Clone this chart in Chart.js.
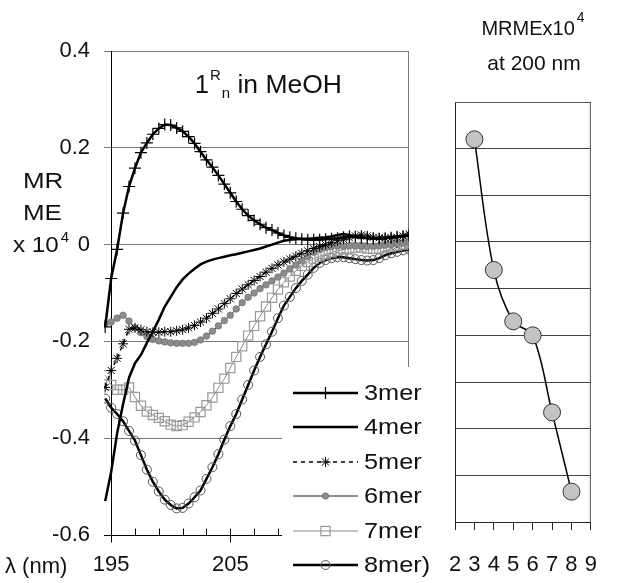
<!DOCTYPE html>
<html>
<head>
<meta charset="utf-8">
<script src="https://cdn.jsdelivr.net/npm/chart.js@4/dist/chart.umd.min.js"></script>
<style>
  body { margin: 0; background: #fff; }
  #wrap { position: relative; width: 619px; height: 583px; overflow: hidden; }
  canvas { position: absolute; top: 0; }
  #cd { left: 0; }
  #nm { left: 420px; }
</style>
</head>
<body>
<div id="wrap">
  <canvas id="cd" width="430" height="583"></canvas>
  <canvas id="nm" width="199" height="583"></canvas>
</div>
<script>
// wavelength (nm) of each spectrum point
const wavelength = [194.5,195,195.5,196,196.5,197,197.5,198,198.5,199,199.5,200,200.5,201,201.5,202,202.5,203,203.5,204,
  204.5,205,205.5,206,206.5,207,207.5,208,208.5,209,209.5,210,210.5,211,211.5,212,212.5,213,213.5,214,
  214.5,215,215.5,216,216.5,217,217.5,218,218.5,219,219.5,220];

// MRME x 10^4 for each oligomer
const mer3 = [-0.17,-0.07,-0.01,0.065,0.12,0.158,0.19,0.21,0.228,0.24,
  0.248,0.247,0.241,0.234,0.223,0.209,0.192,0.175,0.16,0.143,
  0.125,0.107,0.089,0.073,0.06,0.05,0.042,0.035,0.03,0.024,
  0.019,0.015,0.013,0.011,0.01,0.01,0.01,0.011,0.012,0.013,
  0.015,0.017,0.016,0.014,0.013,0.012,0.012,0.013,0.014,0.016,
  0.017,0.018];
const mer4 = [-0.53,-0.47,-0.39,-0.33,-0.275,-0.245,-0.228,-0.203,-0.18,-0.155,
  -0.128,-0.108,-0.088,-0.072,-0.06,-0.05,-0.041,-0.035,-0.031,-0.028,
  -0.025,-0.022,-0.02,-0.017,-0.014,-0.011,-0.008,-0.004,0.0,0.004,
  0.008,0.01,0.011,0.012,0.012,0.013,0.014,0.015,0.017,0.02,
  0.022,0.02,0.017,0.015,0.014,0.013,0.014,0.015,0.016,0.017,
  0.018,0.02];
const mer5 = [-0.295,-0.26,-0.235,-0.205,-0.175,-0.172,-0.176,-0.18,-0.181,-0.181,
  -0.18,-0.18,-0.178,-0.176,-0.172,-0.167,-0.16,-0.152,-0.142,-0.133,
  -0.122,-0.112,-0.101,-0.092,-0.083,-0.074,-0.066,-0.057,-0.049,-0.042,
  -0.036,-0.03,-0.024,-0.018,-0.013,-0.008,-0.004,0.0,0.004,0.008,
  0.011,0.014,0.018,0.02,0.018,0.015,0.014,0.013,0.014,0.015,
  0.018,0.022];
const mer6 = [-0.163,-0.16,-0.152,-0.146,-0.158,-0.172,-0.182,-0.19,-0.196,-0.199,
  -0.201,-0.203,-0.204,-0.204,-0.204,-0.202,-0.197,-0.189,-0.179,-0.168,
  -0.157,-0.146,-0.133,-0.12,-0.109,-0.1,-0.091,-0.083,-0.075,-0.067,
  -0.059,-0.05,-0.042,-0.034,-0.025,-0.016,-0.01,-0.006,-0.004,-0.003,
  -0.003,-0.002,-0.003,-0.004,-0.004,-0.003,-0.002,-0.001,0.0,0.002,
  0.004,0.006];
const mer7 = [-0.27,-0.29,-0.3,-0.3,-0.295,-0.315,-0.333,-0.345,-0.352,-0.358,
  -0.365,-0.372,-0.375,-0.373,-0.366,-0.357,-0.346,-0.332,-0.316,-0.296,
  -0.277,-0.255,-0.232,-0.21,-0.188,-0.168,-0.148,-0.128,-0.11,-0.093,
  -0.078,-0.066,-0.054,-0.044,-0.036,-0.029,-0.024,-0.02,-0.016,-0.013,
  -0.01,-0.008,-0.006,-0.006,-0.008,-0.009,-0.008,-0.006,-0.004,-0.002,
  0.0,0.003];
const mer8 = [-0.318,-0.337,-0.35,-0.365,-0.385,-0.405,-0.435,-0.465,-0.49,-0.51,
  -0.527,-0.538,-0.545,-0.544,-0.535,-0.522,-0.508,-0.484,-0.46,-0.433,
  -0.403,-0.375,-0.35,-0.32,-0.29,-0.26,-0.232,-0.206,-0.18,-0.152,
  -0.126,-0.108,-0.09,-0.075,-0.062,-0.048,-0.038,-0.032,-0.028,-0.026,
  -0.026,-0.028,-0.03,-0.032,-0.033,-0.032,-0.028,-0.022,-0.018,-0.015,
  -0.012,-0.01];

const seriesNames = ['3mer','4mer','5mer','6mer','7mer','8mer)'];
const cdTicksY = [-0.6,-0.4,-0.2,0,0.2,0.4];
const cdTicksX = [195,197,199,201,203,205,207,209,211,213,215,217,219];
const cdLabelsX = [195,205];

// right panel: MRME x 10^4 at 200 nm vs chain length
const merN = [3,4,5,6,7,8];
const mrme200 = [0.22,-0.06,-0.17,-0.2,-0.365,-0.535];
const nmTicksY = [-0.6,-0.5,-0.4,-0.3,-0.2,-0.1,0,0.1,0.2,0.3];
const nmTicksX = [2,3,4,5,6,7,8,9];

Chart.defaults.font.family = "'Liberation Sans', Arial, sans-serif";
Chart.defaults.font.size = 22;
Chart.defaults.color = '#111';

const FONT = "'Liberation Sans', Arial, sans-serif";

// the scanned figure's lettering is a little wider than Arial
function wideText(ctx, text, x, y, sx) {
  ctx.save();
  ctx.translate(x, y);
  ctx.scale(sx, 1);
  ctx.fillText(text, 0, 0);
  ctx.restore();
  return ctx.measureText(text).width * sx;
}

const styles = [
  {borderColor:'#000', borderWidth:2.5, pointStyle:'cross', pointRadius:6, pointBorderWidth:1.2, pointBorderColor:'#000', pointBackgroundColor:'#000'},
  {borderColor:'#000', borderWidth:2.5, pointStyle:'circle', pointRadius:0, pointBorderWidth:0},
  {borderColor:'#000', borderWidth:1.5, borderDash:[4,4], pointStyle:'star', pointRadius:5, pointBorderWidth:1, pointBorderColor:'#000', pointBackgroundColor:'#000'},
  {borderColor:'#222', borderWidth:1, pointStyle:'circle', pointRadius:3.3, pointBorderWidth:0.6, pointBorderColor:'#666', pointBackgroundColor:'#8c8c8c'},
  {borderColor:'#888', borderWidth:1, pointStyle:'rect', pointRadius:6.5, pointBorderWidth:1.2, pointBorderColor:'#9a9a9a', pointBackgroundColor:'rgba(255,255,255,0)'},
  {borderColor:'#000', borderWidth:2.5, pointStyle:'circle', pointRadius:4.5, pointBorderWidth:1, pointBorderColor:'#555', pointBackgroundColor:'rgba(255,255,255,0)'}
];
const allSeries = [mer3, mer4, mer5, mer6, mer7, mer8];

const cdDatasets = allSeries.map((s, k) => Object.assign({
  label: seriesNames[k],
  data: wavelength.map((w, i) => ({x: w, y: s[i]})),
  tension: 0,
  fill: false
}, styles[k]));

const cdDecor = {
  id: 'cdDecor',
  beforeDatasetsDraw(chart) {
    const {ctx, chartArea: a, scales: {x, y}} = chart;
    ctx.save();
    ctx.lineWidth = 1;
    // right border of plot area
    ctx.strokeStyle = '#777';
    ctx.beginPath();
    ctx.moveTo(a.right - 0.5, a.top); ctx.lineTo(a.right - 0.5, a.bottom);
    ctx.stroke();
    // value axis crossing at 195 nm
    ctx.strokeStyle = '#000';
    const x0 = Math.round(x.getPixelForValue(195)) + 0.5;
    ctx.beginPath();
    ctx.moveTo(x0, a.top); ctx.lineTo(x0, a.bottom + 7);
    ctx.stroke();
    // category axis at -0.6
    const yb = Math.round(y.getPixelForValue(-0.6)) + 0.5;
    ctx.beginPath();
    ctx.moveTo(a.left, yb); ctx.lineTo(a.right, yb);
    ctx.stroke();
    cdTicksX.forEach(v => {
      const px = Math.round(x.getPixelForValue(v)) + 0.5;
      ctx.beginPath();
      ctx.moveTo(px, yb - 7);
      ctx.lineTo(px, cdLabelsX.includes(v) ? yb + 7 : yb);
      ctx.stroke();
    });
    ctx.restore();
  },
  afterDraw(chart) {
    const ctx = chart.ctx;
    ctx.save();
    ctx.fillStyle = '#111';
    ctx.textBaseline = 'alphabetic';
    ctx.textAlign = 'left';
    // panel title 1^R_n in MeOH
    ctx.font = '25px ' + FONT;
    ctx.fillText('1', 195, 93);
    let cx = 195 + ctx.measureText('1').width;
    ctx.font = '15px ' + FONT;
    ctx.fillText('R', cx + 1, 80);
    cx += 1 + ctx.measureText('R').width;
    ctx.fillText('n', cx + 1, 98);
    cx += 1 + ctx.measureText('n').width;
    ctx.font = '25px ' + FONT;
    wideText(ctx, ' in MeOH', cx, 93, 1.06);
    // axis title
    ctx.font = '22px ' + FONT;
    wideText(ctx, 'MR', 23, 188, 1.18);
    wideText(ctx, 'ME', 23, 220, 1.18);
    const w10 = wideText(ctx, 'x 10', 13, 252, 1.1);
    ctx.font = '15px ' + FONT;
    ctx.fillText('4', 13 + w10 + 2, 242);
    ctx.font = '22px ' + FONT;
    ctx.fillText('\u03bb (nm)', 5, 573);

    // legend box
    ctx.fillStyle = '#fff';
    ctx.fillRect(282, 367, 150, 216);
    const rowY = [393, 427, 462, 496, 531, 565];
    chart.data.datasets.forEach((ds, k) => {
      const yy = rowY[k];
      ctx.save();
      ctx.strokeStyle = ds.borderColor;
      ctx.lineWidth = ds.borderWidth;
      ctx.setLineDash(ds.borderDash || []);
      ctx.beginPath();
      ctx.moveTo(293, yy); ctx.lineTo(358, yy);
      ctx.stroke();
      ctx.setLineDash([]);
      if (ds.pointRadius > 0) {
        ctx.fillStyle = ds.pointBackgroundColor;
        ctx.strokeStyle = ds.pointBorderColor;
        ctx.lineWidth = ds.pointBorderWidth;
        Chart.helpers.drawPoint(ctx, {pointStyle: ds.pointStyle, radius: ds.pointRadius, borderWidth: ds.pointBorderWidth, rotation: 0}, 325.5, yy);
      }
      ctx.restore();
      ctx.fillStyle = '#111';
      ctx.font = '22px ' + FONT;
      ctx.textBaseline = 'middle';
      wideText(ctx, ds.label, 364, yy + 1, 1.15);
    });
    ctx.restore();
  }
};

new Chart(document.getElementById('cd'), {
  type: 'line',
  data: {datasets: cdDatasets},
  options: {
    responsive: false,
    animation: false,
    layout: {padding: {top: 51, right: 21, left: 0, bottom: 0}},
    plugins: {legend: {display: false}, tooltip: {enabled: false}},
    scales: {
      x: {
        type: 'linear', min: 194.4, max: 220,
        afterBuildTicks: s => { s.ticks = cdTicksX.map(v => ({value: v})); },
        afterFit: s => { s.height = 48; },
        grid: {display: false, drawTicks: false},
        border: {display: false},
        ticks: {padding: 17, autoSkip: false, maxRotation: 0,
          callback: v => cdLabelsX.includes(v) ? String(v) : ''}
      },
      y: {
        min: -0.6, max: 0.4,
        afterBuildTicks: s => { s.ticks = cdTicksY.map(v => ({value: v})); },
        afterFit: s => { s.width = 104; },
        grid: {color: '#777', lineWidth: 1, drawTicks: false},
        border: {display: false},
        ticks: {padding: 14, callback: v => Math.abs(v) < 1e-9 ? '0' : v.toFixed(1)}
      }
    }
  },
  plugins: [cdDecor]
});

const nmDecor = {
  id: 'nmDecor',
  beforeDatasetsDraw(chart) {
    const {ctx, chartArea: a} = chart;
    ctx.save();
    ctx.strokeStyle = '#555';
    ctx.lineWidth = 1;
    ctx.beginPath();
    ctx.moveTo(a.left, a.top + 0.5); ctx.lineTo(a.right - 0.5, a.top + 0.5);
    ctx.lineTo(a.right - 0.5, a.bottom);
    ctx.stroke();
    ctx.restore();
  },
  afterDraw(chart) {
    const ctx = chart.ctx;
    ctx.save();
    ctx.fillStyle = '#111';
    ctx.textBaseline = 'alphabetic';
    ctx.textAlign = 'left';
    ctx.font = '20px ' + FONT;
    const t = 'MRMEx10';
    const w1 = ctx.measureText(t).width;
    ctx.font = '14px ' + FONT;
    const w2 = ctx.measureText('4').width;
    const sx = 113 - (w1 + w2 + 2) / 2;
    ctx.font = '20px ' + FONT;
    ctx.fillText(t, sx, 35);
    ctx.font = '14px ' + FONT;
    ctx.fillText('4', sx + w1 + 2, 22);
    ctx.font = '21px ' + FONT;
    ctx.textAlign = 'center';
    ctx.fillText('at 200 nm', 114, 70);
    ctx.restore();
  }
};

new Chart(document.getElementById('nm'), {
  type: 'line',
  data: {datasets: [{
    label: 'MRME at 200 nm',
    data: merN.map((n, i) => ({x: n, y: mrme200[i]})),
    borderColor: '#000', borderWidth: 1.5, tension: 0.35, fill: false,
    pointRadius: 8.5, pointBackgroundColor: '#c3c3c3', pointBorderColor: '#333', pointBorderWidth: 1
  }]},
  options: {
    responsive: false,
    animation: false,
    layout: {padding: {top: 102, right: 9, left: 0, bottom: 0}},
    plugins: {legend: {display: false}, tooltip: {enabled: false}},
    scales: {
      x: {
        type: 'linear', min: 2, max: 9,
        afterBuildTicks: s => { s.ticks = nmTicksX.map(v => ({value: v})); },
        afterFit: s => { s.height = 61; },
        grid: {drawOnChartArea: false, color: '#222', tickLength: 8},
        border: {color: '#222'},
        ticks: {padding: 22, autoSkip: false, maxRotation: 0, callback: v => String(v)}
      },
      y: {
        min: -0.6, max: 0.3,
        afterBuildTicks: s => { s.ticks = nmTicksY.map(v => ({value: v})); },
        afterFit: s => { s.width = 35; },
        grid: {color: '#444', drawTicks: false},
        border: {color: '#222'},
        ticks: {display: false}
      }
    }
  },
  plugins: [nmDecor]
});
</script>
</body>
</html>
